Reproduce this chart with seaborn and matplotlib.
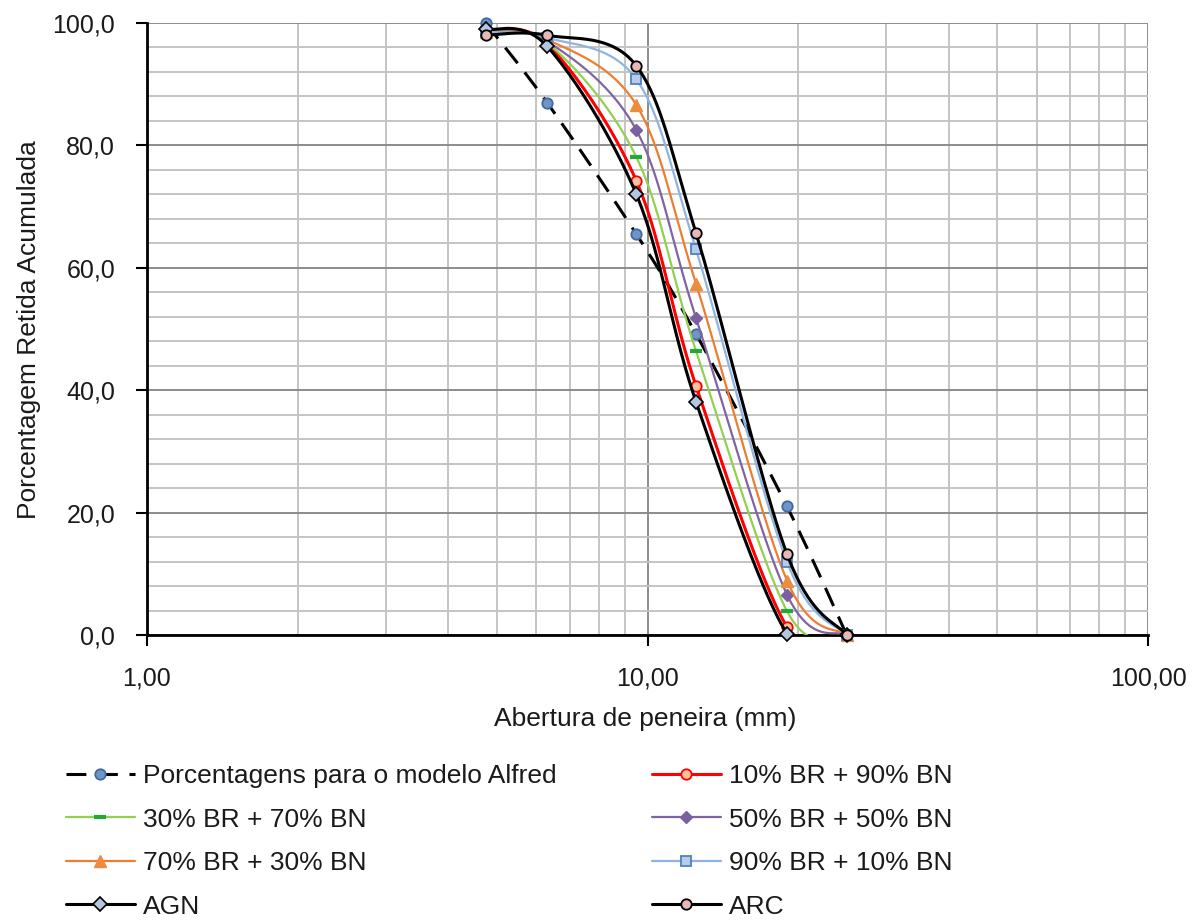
import numpy as np
import pandas as pd
import matplotlib
matplotlib.use("Agg")
import matplotlib.pyplot as plt
from matplotlib.lines import Line2D
import seaborn as sns

# ---------------- data ----------------
sieves = [4.75, 6.3, 9.5, 12.5, 19.0, 25.0]
alfred = [100.0, 87.0, 65.5, 49.2, 21.0, 0.0]
br10 = [98.5, 96.6, 74.2, 40.7, 1.3, 0.0]
br30 = [98.5, 96.8, 78.1, 46.4, 3.9, 0.0]
br50 = [98.5, 97.0, 82.5, 51.8, 6.6, 0.0]
br70 = [98.5, 97.3, 86.6, 57.4, 8.9, 0.0]
br90 = [98.5, 97.6, 90.8, 63.0, 11.9, 0.0]
agn = [99.0, 96.2, 72.0, 38.1, 0.2, 0.0]
arc = [98.0, 98.0, 93.0, 65.7, 13.2, 0.0]

labels = ["Porcentagens para o modelo Alfred", "10% BR + 90% BN", "30% BR + 70% BN",
          "50% BR + 50% BN", "70% BR + 30% BN", "90% BR + 10% BN", "AGN", "ARC"]
x_ticks = [1, 10, 100]
x_tick_labels = ["1,00", "10,00", "100,00"]
y_ticks = [0, 20, 40, 60, 80, 100]
y_tick_labels = ["0,0", "20,0", "40,0", "60,0", "80,0", "100,0"]

series = [alfred, br10, br30, br50, br70, br90, agn, arc]

styles = [
    dict(color="black", lw=2.2, ls=(0, (6.5, 3.8)), marker="o", ms=7.5, mfc="#6F94C8", mec="#41699F", mew=1.3),
    dict(color="#FF0000", lw=2.2, ls="-", marker="o", ms=7.5, mfc="#F9C29D", mec="#FF0000", mew=1.3),
    dict(color="#92D050", lw=1.6, ls="-", marker="_", ms=8, mfc="#22A838", mec="#22A838", mew=3.0),
    dict(color="#8064A2", lw=1.6, ls="-", marker="D", ms=6.0, mfc="#7B5FA1", mec="#7B5FA1", mew=1.0),
    dict(color="#ED7D31", lw=1.6, ls="-", marker="^", ms=8.0, mfc="#ED8B3E", mec="#ED8B3E", mew=1.0),
    dict(color="#8EB4E3", lw=1.6, ls="-", marker="s", ms=7.5, mfc="#B7CCEB", mec="#4F81BD", mew=1.3),
    dict(color="black", lw=2.2, ls="-", marker="D", ms=7.0, mfc="#B4C7E0", mec="black", mew=1.2),
    dict(color="black", lw=2.2, ls="-", marker="o", ms=7.5, mfc="#E6B9B8", mec="black", mew=1.3),
]

# ---------------- figure ----------------
sns.set_theme(style="white")
plt.rcParams["font.family"] = ["Liberation Sans", "DejaVu Sans"]
FS_TICK = 18.0
FS = 19.0
TXT = "#1a1a1a"

W, H = 1201, 921
fig = plt.figure(figsize=(W / 100, H / 100), dpi=100)
L, R, T, B = 147, 1148, 23, 635
ax = fig.add_axes([L / W, 1 - B / H, (R - L) / W, (B - T) / H])

ax.set_xscale("log")
ax.set_xlim(1, 100)
ax.set_ylim(0, 100)

# pixel scaling for Excel-like smoothing
PX_DEC = (R - L) / 2.0
PX_Y = (B - T) / 100.0


def smooth(xs, ys, n=40):
    u = np.log10(np.asarray(xs, float)) * PX_DEC
    v = np.asarray(ys, float) * PX_Y
    P = np.column_stack([u, v])
    m = len(P)
    out = []
    for i in range(m - 1):
        p0 = P[max(i - 1, 0)]
        p1 = P[i]
        p2 = P[i + 1]
        p3 = P[min(i + 2, m - 1)]
        c1 = p1 + (p2 - p0) / 6.0
        c2 = p2 - (p3 - p1) / 6.0
        t = np.linspace(0, 1, n)[:, None]
        seg = ((1 - t) ** 3) * p1 + 3 * ((1 - t) ** 2) * t * c1 + 3 * (1 - t) * t ** 2 * c2 + t ** 3 * p2
        out.append(seg if i == 0 else seg[1:])
    S = np.vstack(out)
    return 10 ** (S[:, 0] / PX_DEC), S[:, 1] / PX_Y


for k, (ys, st, lab) in enumerate(zip(series, styles, labels)):
    sx, sy = smooth(sieves, ys)
    df_line = pd.DataFrame({"x": sx, "y": sy})
    sns.lineplot(data=df_line, x="x", y="y", sort=False, estimator=None, ax=ax,
                 color=st["color"], lw=st["lw"], linestyle=st["ls"], zorder=3 + 2 * k,
                 legend=False)
    ax.plot(sieves, ys, ls="none", marker=st["marker"], ms=st["ms"], mfc=st["mfc"],
            mec=st["mec"], mew=st["mew"], zorder=4 + 2 * k, clip_on=False)

# grid
ax.set_xticks(x_ticks)
ax.set_xticklabels(x_tick_labels, fontsize=FS_TICK, color=TXT)
ax.set_yticks(y_ticks)
ax.set_yticklabels(y_tick_labels, fontsize=FS_TICK, color=TXT)
ax.xaxis.set_minor_locator(matplotlib.ticker.LogLocator(base=10, subs=np.arange(2, 10)))
ax.xaxis.set_minor_formatter(matplotlib.ticker.NullFormatter())
ax.yaxis.set_minor_locator(matplotlib.ticker.MultipleLocator(4))
ax.grid(True, which="major", color="#8C8C8C", lw=1.4, zorder=0)
ax.grid(True, which="minor", color="#C4C4C4", lw=1.4, zorder=0)
ax.set_axisbelow(True)
ax.tick_params(axis="both", which="major", direction="out", length=8, width=1.5, color="black",
               left=True, bottom=True)
ax.tick_params(axis="x", which="major", pad=15)
ax.tick_params(axis="y", which="major", pad=15)
ax.tick_params(axis="both", which="minor", length=0)

for s in ["top", "right"]:
    ax.spines[s].set_visible(False)
for s in ["left", "bottom"]:
    ax.spines[s].set_color("black")
    ax.spines[s].set_linewidth(2.0)
    ax.spines[s].set_zorder(2.5)

ax.set_xlabel("Abertura de peneira (mm)", fontsize=FS, color=TXT, va="center")
ax.xaxis.set_label_coords((645 - L) / (R - L), -(719 - B) / (B - T))
ax.set_ylabel("Porcentagem Retida Acumulada", fontsize=FS, color=TXT, va="center")
ax.yaxis.set_label_coords(-(L - 29) / (R - L), (B - 330) / (B - T))

# legend
handles = []
for st, lab in zip(styles, labels):
    handles.append(Line2D([0], [0], color=st["color"], lw=st["lw"], ls=st["ls"],
                          marker=st["marker"], ms=st["ms"], mfc=st["mfc"], mec=st["mec"],
                          mew=st["mew"], label=lab))
left_idx = [0, 2, 4, 6]
right_idx = [1, 3, 5, 7]
common = dict(frameon=False, fontsize=FS, handlelength=2.6, handletextpad=0.32,
              labelspacing=0.74, borderpad=0, borderaxespad=0, loc="upper left",
              labelcolor=TXT)
leg1 = fig.legend([handles[i] for i in left_idx], [labels[i] for i in left_idx],
                  bbox_to_anchor=(66 / W, 1 - 764 / H), **common)
leg2 = fig.legend([handles[i] for i in right_idx], [labels[i] for i in right_idx],
                  bbox_to_anchor=(652 / W, 1 - 764 / H), **common)

fig.savefig("out.png", dpi=100)
